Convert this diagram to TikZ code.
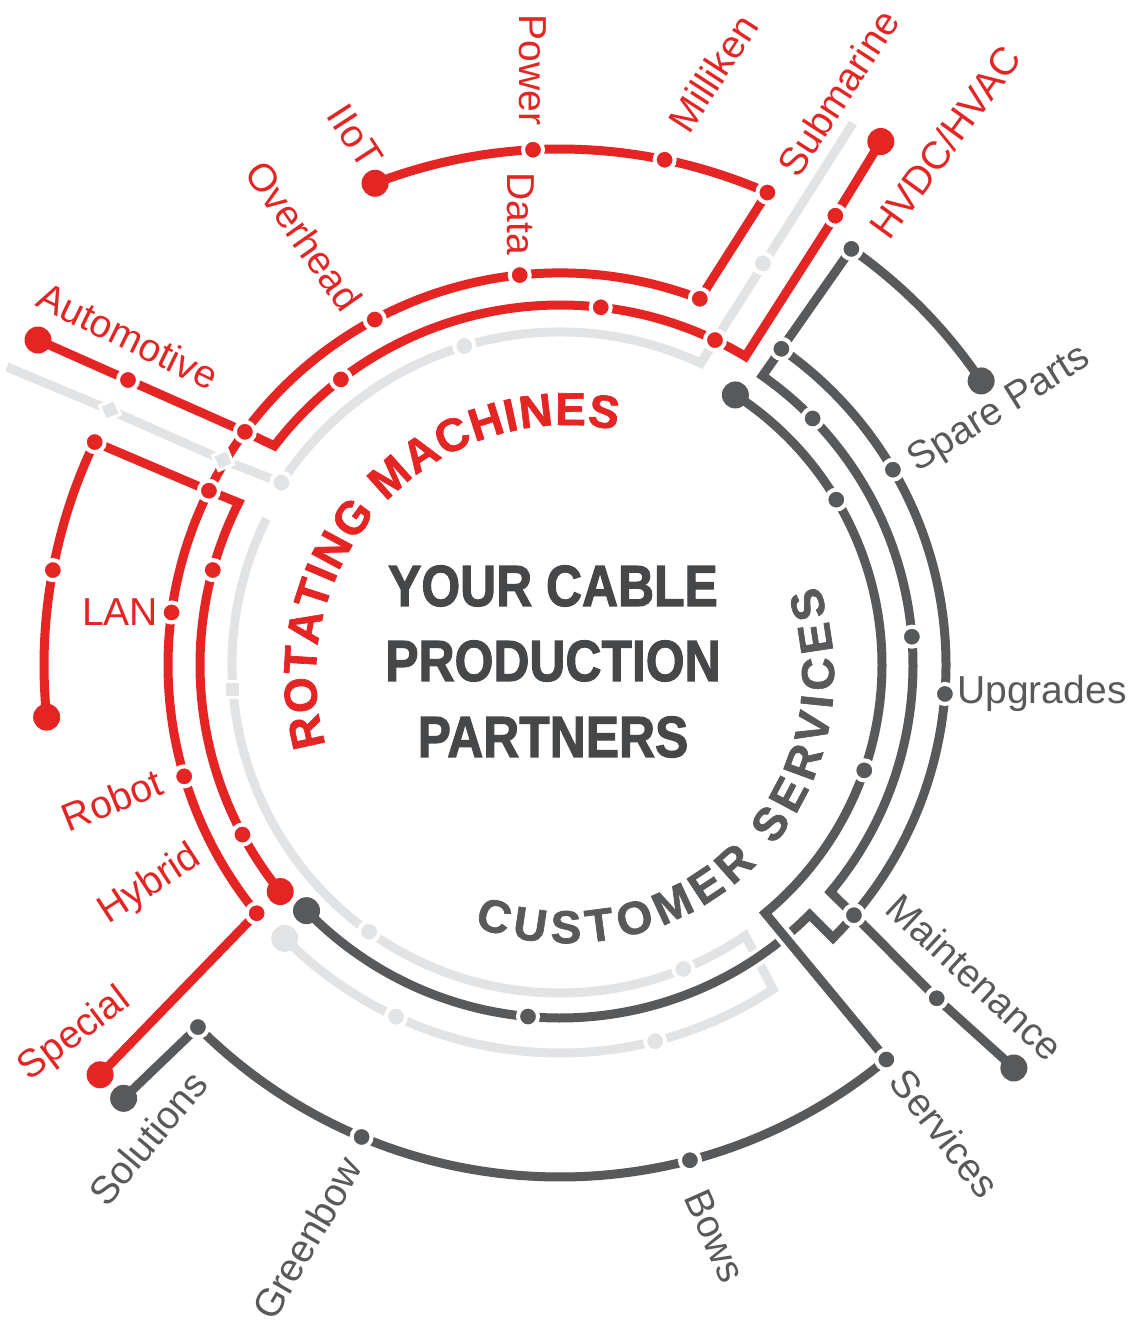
\documentclass[tikz,border=0pt]{standalone}
\usepackage{fontspec}
\setmainfont{Liberation Sans}
\newfontfamily\heavyfont{Liberation Sans}[BoldFeatures={FakeBold=2}]
\newfontfamily\arcfont{Liberation Sans}[BoldFeatures={FakeBold=1.5}]
\usepackage{graphicx}
\usetikzlibrary{decorations.text}
\definecolor{cred}{RGB}{228,37,36}
\definecolor{cgray}{RGB}{88,89,91}
\definecolor{clight}{RGB}{226,227,229}
\definecolor{ctext}{RGB}{70,71,73}
\begin{document}
\begin{tikzpicture}[x=1pt,y=-1pt,
  redline/.style={draw=cred, line width=9pt, preaction={draw=white, line width=17pt}},
  grayline/.style={draw=cgray, line width=9pt, preaction={draw=white, line width=17pt}},
  lightline/.style={draw=clight, line width=9pt, preaction={draw=white, line width=17pt}},
  sdot/.style={circle, fill=#1, draw=white, line width=4pt, minimum size=20pt, inner sep=0pt},
  bdot/.style={circle, fill=#1, minimum size=27pt, inner sep=0pt},
  sqdot/.style={rectangle, fill=clight, draw=white, line width=3pt, minimum size=16pt, inner sep=0pt},
  lab/.style={font=\fontsize{39}{44}\selectfont, inner sep=0pt},
  rlab/.style={lab, text=cred},
  glab/.style={lab, text=cgray},
  ctitle/.style={font=\heavyfont\bfseries\fontsize{58}{60}\selectfont, text=ctext, inner sep=0pt},
]
\useasboundingbox (0,0) rectangle (1129,1328);
\fill[white] (0,0) rectangle (1129,1328);

\begin{scope}[shift={(560,665)}]
% ---------- light (faded) lines ----------
\coordinate (l1s) at (-553,-298);
\coordinate (l1a) at (-450,-255);
\coordinate (l1b) at (-337,-205);
\coordinate (l1c) at (-146.8:333);
\coordinate (l1d) at (-106.7:333);
\coordinate (l1e) at (-65:333);
\coordinate (l1f) at (-63.2:450);
\coordinate (l1g) at (-61.6:616);
\coordinate (l2s) at (-153.5:328);
\coordinate (l2sq) at (175.7:328);
\coordinate (l2a) at (125.6:328);
\coordinate (l2b) at (67.9:328);
\coordinate (l2c) at (55.6:328);
\coordinate (l2d) at (56.7:388);
\coordinate (l2e) at (75.8:388);
\coordinate (l2f) at (115:388);
\coordinate (l2g) at (135.2:388);
\draw[lightline] (l1s) -- (l1a) -- (l1b) -- (l1c) arc[start angle=-146.8, end angle=-65, radius=333] -- (l1g);
\draw[lightline] (l2s) arc[start angle=206.5, end angle=55.6, radius=328] -- (l2d) arc[start angle=56.7, end angle=135.2, radius=388];

% ---------- gray lines ----------
\coordinate (g1s) at (-57:322);
\coordinate (g1a) at (-30.9:322);
\coordinate (g1b) at (19.1:322);
\coordinate (g1c) at (50.4:322);
\coordinate (services) at (50.4:512);
\coordinate (bows) at (75.3:512);
\coordinate (greenbow) at (112.8:512);
\coordinate (soldot) at (135:512);
\coordinate (sol) at (135.2:615);
\coordinate (spare) at (-34:508);
\coordinate (g2a) at (-55:508);
\coordinate (g2b) at (-55:386);
\coordinate (g2c) at (-55:353);
\coordinate (g2d) at (-44.3:353);
\coordinate (g2e) at (-4.6:353);
\coordinate (g2f) at (40:353);
\coordinate (maint) at (40.4:386);
\coordinate (g3a) at (-30.4:386);
\coordinate (upg) at (4.3:386);
\coordinate (maintd) at (41.5:503);
\coordinate (maintend) at (41.6:607);
\coordinate (g4s) at (135.9:353);
\coordinate (g4a) at (95.2:353);
\coordinate (g4b) at (45:353);
\coordinate (g4c) at (45:386);
\draw[grayline] (g4s) arc[start angle=135.9, end angle=45, radius=353] -- (g4c) arc[start angle=45, end angle=40.4, radius=386];
\draw[grayline] (g1s) arc[start angle=-57, end angle=50.4, radius=322] -- (services) arc[start angle=50.4, end angle=135, radius=512] -- (sol);
\draw[grayline] (spare) arc[start angle=-34, end angle=-55, radius=508] -- (g2b) -- (g2c) arc[start angle=-55, end angle=40, radius=353] -- (maint);
\draw[grayline] (g2b) arc[start angle=-55, end angle=40.4, radius=386] -- (maintd) -- (maintend);

% ---------- red lines ----------
\coordinate (iiot) at (-111:516);
\coordinate (power) at (-93:516);
\coordinate (milliken) at (-78.3:516);
\coordinate (subm) at (-66.3:516);
\coordinate (bsub) at (-69.1:392);
\coordinate (data) at (-95.9:392);
\coordinate (overhead) at (-118.2:392);
\coordinate (bauto) at (-143.5:392);
\coordinate (blan) at (-153.6:392);
\coordinate (lan) at (-172.3:392);
\coordinate (robot) at (-196.5:392);
\coordinate (hybrid) at (-219.3:392);
\coordinate (special) at (-221.7:616);
\coordinate (auto) at (-522,-325);
\coordinate (autod) at (-432,-285);
\coordinate (acorner) at (-142.5:360);
\coordinate (a1) at (-127.5:360);
\coordinate (a2) at (-83.5:360);
\coordinate (a3) at (-64.5:360);
\coordinate (acorner2) at (-59:360);
\coordinate (hvdcd) at (-58.5:527);
\coordinate (hvdc) at (-58.5:614);
\coordinate (lanend) at (174.2:516);
\coordinate (c1) at (190.6:516);
\coordinate (c2) at (205.6:516);
\coordinate (ccorner) at (206.8:360);
\coordinate (c3) at (195.3:360);
\coordinate (c4) at (151.9:360);
\coordinate (cend) at (141:360);
\draw[redline] (iiot) arc[start angle=-111, end angle=-66.3, radius=516] -- (bsub) arc[start angle=-69.1, end angle=-219.3, radius=392] -- (special);
\draw[redline] (auto) -- (autod) -- (bauto) -- (acorner) arc[start angle=-142.5, end angle=-59, radius=360] -- (hvdcd) -- (hvdc);
\draw[redline] (lanend) arc[start angle=174.2, end angle=205.6, radius=516] -- (blan) -- (ccorner) arc[start angle=206.8, end angle=141, radius=360];

% ---------- dots ----------
\foreach \p in {l1c,l1d,l1f,l2a,l2b,l2e,l2f} \node[sdot=clight] (d\p) at (\p) {};
\node[bdot=clight] (dl2g) at (l2g) {};
\node[sqdot, rotate=23] (dl1a) at (l1a) {};
\node[sqdot, rotate=23] (dl1b) at (l1b) {};
\node[sqdot] (dl2sq) at (l2sq) {};
\foreach \p in {g1a,g1b,services,bows,greenbow,soldot,g2a,g2b,g2d,g2e,maint,g3a,upg,maintd,g4a} \node[sdot=cgray] (d\p) at (\p) {};
\foreach \p in {g1s,sol,spare,maintend,g4s} \node[bdot=cgray] (d\p) at (\p) {};
\foreach \p in {power,milliken,subm,bsub,data,overhead,bauto,blan,lan,robot,hybrid,autod,a1,a2,a3,hvdcd,c1,c2,c3,c4} \node[sdot=cred] (d\p) at (\p) {};
\foreach \p in {iiot,special,auto,hvdc,lanend,cend} \node[bdot=cred] (d\p) at (\p) {};
\end{scope}

% ---------- curved titles ----------
\begin{scope}[shift={(567,676)}]
\path[decorate, decoration={text along path, text align=fit to path, text color=cred,
   text={|\arcfont\bfseries\fontsize{46}{46}\selectfont|ROTATING MACHINES}}]
   (164:251) arc[start angle=164, end angle=281.5, radius=251];
\path[decorate, decoration={text along path, text align=fit to path, text color=cgray,
   text={|\arcfont\bfseries\fontsize{46}{46}\selectfont|CUSTOMER SERVICES}}]
   (110.4:267) arc[start angle=110.4, end angle=-19.8, radius=267];
\end{scope}

% ---------- centre text ----------
\node[ctitle] (t1) at (553,586) {\scalebox{0.86}[1]{YOUR CABLE}};
\node[ctitle] (t2) at (553,661) {\scalebox{0.86}[1]{PRODUCTION}};
\node[ctitle] (t3) at (553,737) {\scalebox{0.86}[1]{PARTNERS}};

% ---------- labels ----------
\node[rlab, rotate=-57] (tiiot) at (355,136) {IIoT};
\node[rlab, rotate=-90] (tpower) at (533,70) {Power};
\node[rlab, rotate=57] (tmilliken) at (713,73) {Milliken};
\node[rlab, rotate=57] (tsubm) at (838,93) {Submarine};
\node[rlab, rotate=54] (thvdc) at (945,142) {HVDC/HVAC};
\node[rlab, rotate=-55] (toverhead) at (304,236) {Overhead};
\node[rlab, rotate=-90] (tdata) at (521,214) {Data};
\node[rlab, rotate=-26] (tauto) at (128,336) {Automotive};
\node[rlab] (tlan) at (120,612) {LAN};
\node[rlab, rotate=22] (trobot) at (112,800) {Robot};
\node[rlab, rotate=33] (thybrid) at (150,885) {Hybrid};
\node[rlab, rotate=37] (tspecial) at (75,1035) {Special};
\node[glab, rotate=32] (tspare) at (1000,410) {Spare Parts};
\node[glab] (tupg) at (1042,693) {Upgrades};
\node[glab, rotate=-43] (tmaint) at (975,977) {Maintenance};
\node[glab, rotate=-52] (tserv) at (945,1133) {Services};
\node[glab, rotate=-66] (tbows) at (715,1236) {Bows};
\node[glab, rotate=60] (tgreen) at (307,1238) {Greenbow};
\node[glab, rotate=50] (tsol) at (148,1138) {Solutions};
\end{tikzpicture}
\end{document}
